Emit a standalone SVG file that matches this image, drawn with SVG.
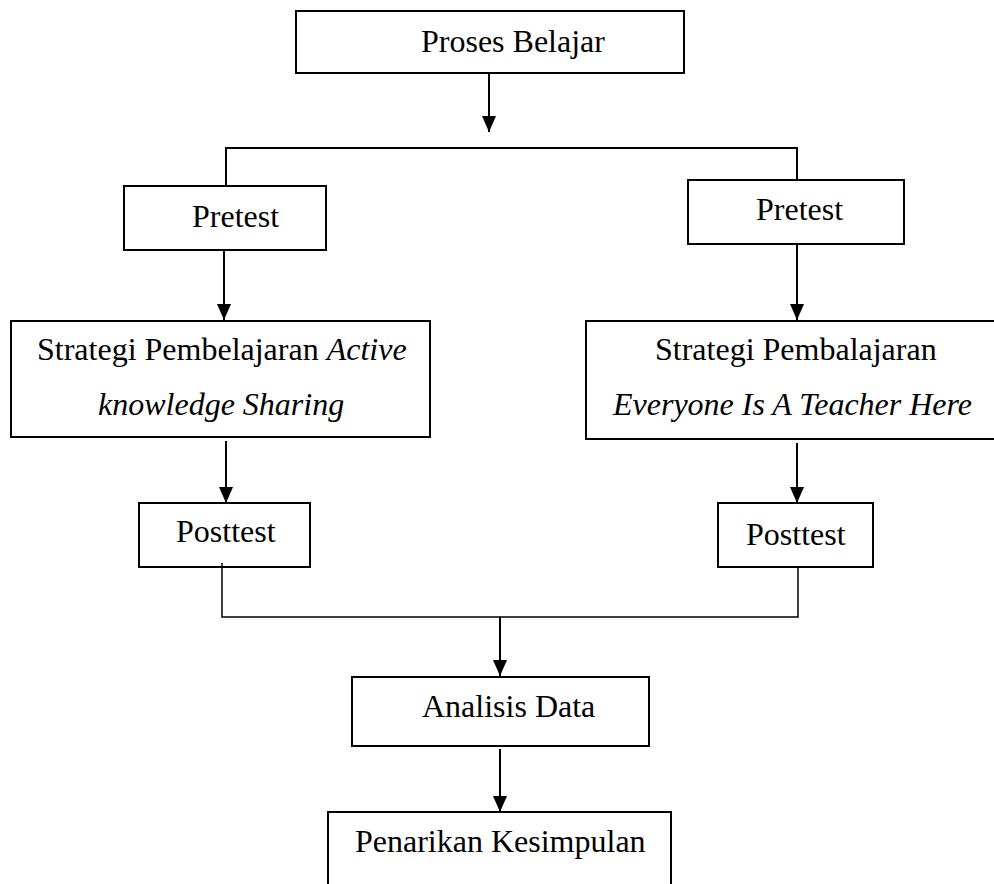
<svg xmlns="http://www.w3.org/2000/svg" width="994" height="884" viewBox="0 0 994 884">
<style>
.box{fill:#fff;stroke:#000;stroke-width:2}
.t{font-family:"Liberation Serif","Times New Roman",serif;font-size:32px;fill:#000}
.i{font-style:italic}
.c{fill:none;stroke:#000;stroke-width:2}
.a{fill:none;stroke:#000;stroke-width:2;marker-end:url(#ah)}
</style>
<defs>
<marker id="ah" markerUnits="userSpaceOnUse" markerWidth="16" markerHeight="14" refX="16" refY="7" orient="auto">
<path d="M0,0 L16,7 L0,14 z" fill="#000"/>
</marker>
</defs>
<rect width="994" height="884" fill="#fff"/>
<g id="proses-belajar">
<rect class="box" x="296" y="11" width="388" height="62"/>
<text class="t" x="421" y="52">Proses Belajar</text>
</g>
<g id="pretest-left">
<rect class="box" x="124" y="186" width="202" height="64"/>
<text class="t" x="192" y="227">Pretest</text>
</g>
<g id="pretest-right">
<rect class="box" x="688" y="180" width="216" height="64"/>
<text class="t" x="756" y="220">Pretest</text>
</g>
<g id="strategi-left">
<rect class="box" x="11" y="321" width="419" height="116"/>
<text class="t" x="37" y="360">Strategi Pembelajaran <tspan class="i">Active</tspan></text>
<text class="t i" x="98" y="415">knowledge Sharing</text>
</g>
<g id="strategi-right">
<rect class="box" x="586" y="321" width="420" height="118"/>
<text class="t" x="655" y="360">Strategi Pembalajaran</text>
<text class="t i" x="613" y="415">Everyone Is A Teacher Here</text>
</g>
<g id="posttest-left">
<rect class="box" x="139" y="503" width="171" height="64"/>
<text class="t" x="176" y="542">Posttest</text>
</g>
<g id="posttest-right">
<rect class="box" x="718" y="503" width="155" height="64"/>
<text class="t" x="746" y="545">Posttest</text>
</g>
<g id="analisis-data">
<rect class="box" x="352" y="677" width="297" height="69"/>
<text class="t" x="422" y="717">Analisis Data</text>
</g>
<g id="penarikan-kesimpulan">
<rect class="box" x="328" y="812" width="343" height="90"/>
<text class="t" x="355" y="852">Penarikan Kesimpulan</text>
</g>
<g id="connectors">
<line class="a" x1="489" y1="73" x2="489" y2="132"/>
<polyline class="c" points="226,186 226,148 797,148 797,180"/>
<line class="a" x1="224" y1="250" x2="224" y2="320"/>
<line class="a" x1="797" y1="244" x2="797" y2="320"/>
<line class="a" x1="226" y1="441" x2="226" y2="503"/>
<line class="a" x1="797" y1="443" x2="797" y2="503"/>
<polyline class="c" style="stroke-width:1.5" points="222,563 222,617 798,617 798,567"/>
<line class="a" x1="500" y1="617" x2="500" y2="676"/>
<line class="a" x1="500" y1="749" x2="500" y2="812"/>
</g>
</svg>
